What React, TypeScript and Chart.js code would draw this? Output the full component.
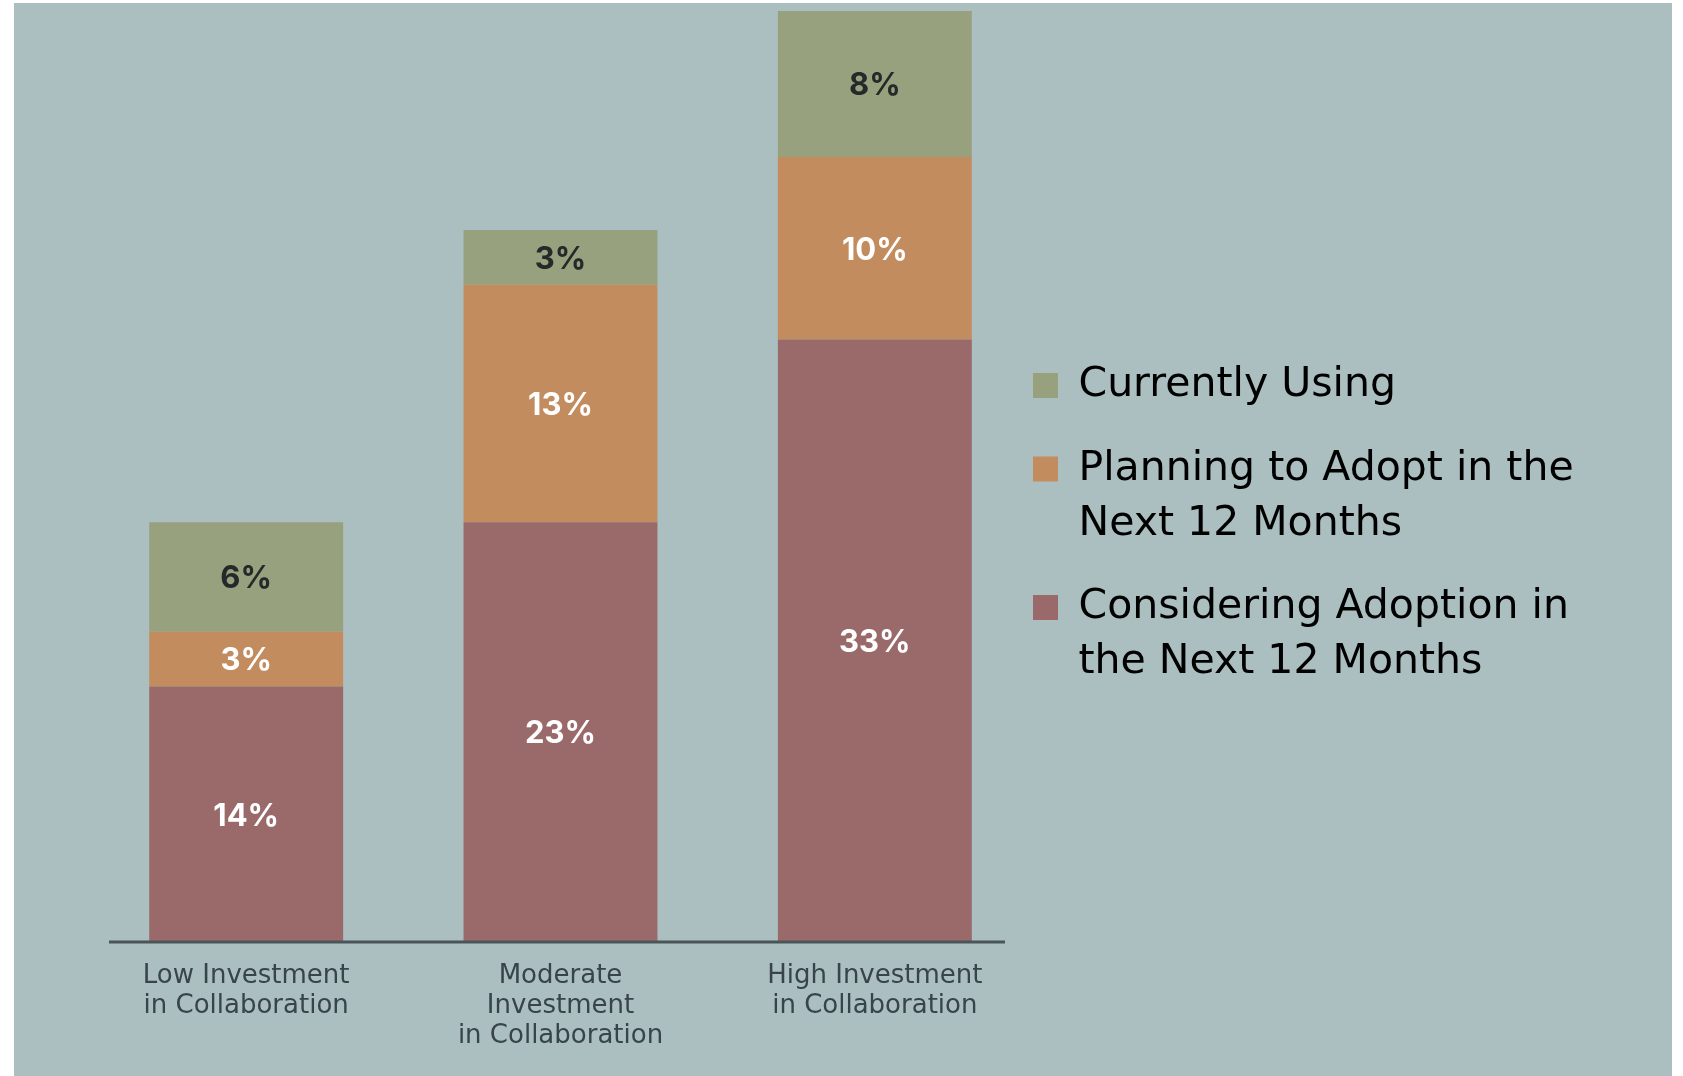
import React, { useEffect, useRef } from 'react';
import { Chart, registerables } from 'chart.js';

Chart.register(...registerables);

// ---- data ----
const categories: string[][] = [
  ['Low Investment', 'in Collaboration'],
  ['Moderate', 'Investment', 'in Collaboration'],
  ['High Investment', 'in Collaboration'],
];
const seriesNames: string[] = [
  'Considering Adoption in the Next 12 Months',
  'Planning to Adopt in the Next 12 Months',
  'Currently Using',
];
const consideringValues: number[] = [14, 23, 33];
const planningValues: number[] = [3, 13, 10];
const currentlyValues: number[] = [6, 3, 8];
const legendLines: string[][] = [
  ['Considering Adoption in', 'the Next 12 Months'],
  ['Planning to Adopt in the', 'Next 12 Months'],
  ['Currently Using'],
];
const yMax = 51;

// ---- styles ----
const seriesColors = ['#9a6a6b', '#c38c5f', '#98a17e'];
const valueLabelColors = ['#ffffff', '#ffffff', '#24292a'];
const TEXT_FONT = '"DejaVu Sans", Inter, sans-serif';
const VALUE_FONT = 'Inter, "DejaVu Sans", sans-serif';
const LEGEND_SIZE = 41;
const LEGEND_BOX = 25;
const LEGEND_PAD = 1;
const PLOT_RIGHT = 1032;
const CANVAS_W = 1683;
const CANVAS_H = 1076;

const valueLabelPlugin = {
  id: 'valueLabels',
  afterDatasetsDraw(chart: any) {
    const ctx = chart.ctx;
    ctx.save();
    ctx.font = `bold 31px ${VALUE_FONT}`;
    ctx.textAlign = 'center';
    ctx.textBaseline = 'middle';
    chart.data.datasets.forEach((ds: any, di: number) => {
      const meta = chart.getDatasetMeta(di);
      meta.data.forEach((el: any, i: number) => {
        const { x, y, base } = el.getProps(['x', 'y', 'base'], true);
        ctx.fillStyle = valueLabelColors[di];
        ctx.fillText(`${ds.data[i]}%`, x, (y + base) / 2 + 2);
      });
    });
    ctx.restore();
  },
};

const axisLinePlugin = {
  id: 'axisLine',
  afterDatasetsDraw(chart: any) {
    const xs = chart.scales.x;
    const { ctx, chartArea } = chart;
    ctx.save();
    ctx.strokeStyle = '#4a5558';
    ctx.lineWidth = 3;
    ctx.beginPath();
    ctx.moveTo(xs.left + 20, chartArea.bottom);
    ctx.lineTo(xs.right - 27, chartArea.bottom);
    ctx.stroke();
    ctx.restore();
  },
};

// legend text: blank half-lines give the spacing between the lines and the items
function legendText(lines: string[], last: boolean): string[] {
  const out: string[] = [];
  lines.forEach((l, i) => {
    if (i > 0) out.push('');
    out.push(l);
  });
  if (!last) out.push('', '');
  else out.push('');
  return out;
}

function legendNaturalWidth(): number {
  const c = document.createElement('canvas');
  const ctx = c.getContext('2d')!;
  ctx.font = `${LEGEND_SIZE}px ${TEXT_FONT}`;
  let longest = '';
  legendLines.forEach((ls) => ls.forEach((l) => { if (l.length > longest.length) longest = l; }));
  return LEGEND_PAD + LEGEND_BOX + LEGEND_SIZE / 2 + ctx.measureText(longest).width + 10;
}

export default function App() {
  const canvasRef = useRef<HTMLCanvasElement | null>(null);

  useEffect(() => {
    if (!canvasRef.current) return;
    const values = [consideringValues, planningValues, currentlyValues];
    const padRight = Math.max(0, CANVAS_W - PLOT_RIGHT - legendNaturalWidth());
    const chart = new Chart(canvasRef.current, {
      type: 'bar',
      data: {
        labels: categories as any,
        datasets: seriesNames.map((name, i) => ({
          label: name,
          data: values[i],
          backgroundColor: seriesColors[i],
          borderWidth: 0,
          categoryPercentage: 1,
          barPercentage: 0.617,
        })),
      },
      options: {
        animation: false,
        responsive: false,
        devicePixelRatio: 1,
        layout: { padding: { top: 11, left: 89, right: padRight, bottom: 25 } },
        scales: {
          x: {
            stacked: true,
            offset: true,
            grid: { display: false, drawTicks: false },
            border: { display: false },
            ticks: {
              color: '#38444a',
              padding: 19,
              maxRotation: 0,
              autoSkip: false,
              font: { family: TEXT_FONT, size: 26, lineHeight: '30px' as any },
            },
            afterFit: (s: any) => {
              s.height = 109;
            },
          },
          y: {
            stacked: true,
            display: false,
            min: 0,
            max: yMax,
          },
        },
        plugins: {
          tooltip: { enabled: false },
          legend: {
            position: 'right',
            align: 'center',
            labels: {
              padding: LEGEND_PAD,
              boxWidth: LEGEND_BOX,
              boxHeight: LEGEND_BOX,
              color: '#242c31',
              font: { family: TEXT_FONT, size: LEGEND_SIZE, lineHeight: '27.5px' as any },
              generateLabels: (c: any) => {
                const order = [2, 1, 0];
                return order.map((di, k) => ({
                  text: legendText(legendLines[di], k === order.length - 1),
                  fillStyle: c.data.datasets[di].backgroundColor,
                  strokeStyle: c.data.datasets[di].backgroundColor,
                  lineWidth: 0,
                  hidden: false,
                  datasetIndex: di,
                })) as any;
              },
            },
          },
        },
      },
      plugins: [valueLabelPlugin, axisLinePlugin],
    });
    return () => chart.destroy();
  }, []);

  return (
    <div style={{ position: 'absolute', left: 0, top: 0, width: CANVAS_W, height: CANVAS_H, background: '#ffffff', overflow: 'hidden' }}>
      <div style={{ position: 'absolute', left: 14, top: 3, width: 1658, height: 1073, background: '#abbfc1' }} />
      <canvas
        ref={canvasRef}
        width={CANVAS_W}
        height={CANVAS_H}
        style={{ position: 'absolute', left: 0, top: 0, width: CANVAS_W, height: CANVAS_H }}
      />
    </div>
  );
}
